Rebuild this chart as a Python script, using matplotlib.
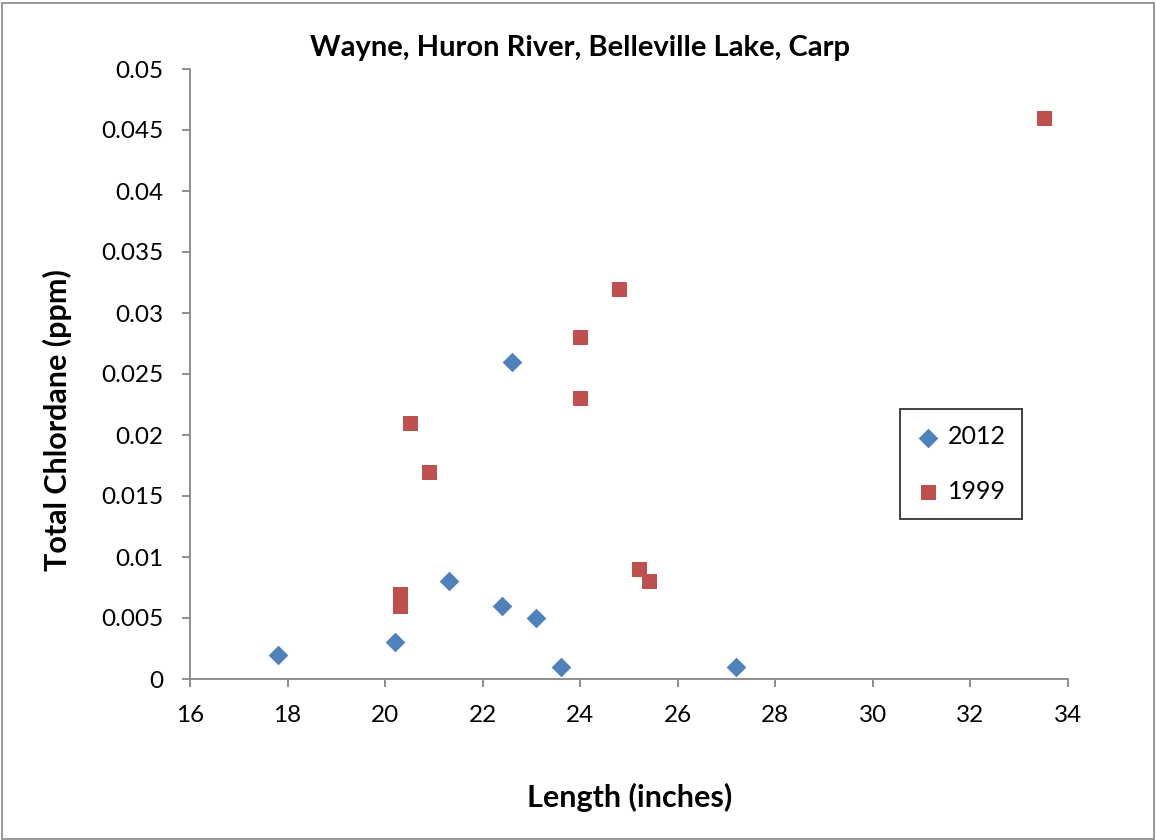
import matplotlib
matplotlib.use("Agg")
import matplotlib.pyplot as plt
from matplotlib.patches import Rectangle
from matplotlib.ticker import FixedLocator, FixedFormatter

# ---- data ----
len_2012 = [17.8, 20.2, 21.3, 22.4, 22.6, 23.1, 23.6, 27.2]
chl_2012 = [0.002, 0.003, 0.008, 0.006, 0.026, 0.005, 0.001, 0.001]
len_1999 = [20.3, 20.3, 20.5, 20.9, 24.0, 24.0, 24.8, 25.2, 25.4, 33.5]
chl_1999 = [0.007, 0.006, 0.021, 0.017, 0.028, 0.023, 0.032, 0.009, 0.008, 0.046]
x_ticks = [16, 18, 20, 22, 24, 26, 28, 30, 32, 34]
y_ticks = [0, 0.005, 0.01, 0.015, 0.02, 0.025, 0.03, 0.035, 0.04, 0.045, 0.05]
y_tick_labels = ["0", "0.005", "0.01", "0.015", "0.02", "0.025", "0.03",
                 "0.035", "0.04", "0.045", "0.05"]
title = "Wayne, Huron River, Belleville Lake, Carp"
xlabel = "Length (inches)"
ylabel = "Total Chlordane (ppm)"

plt.rcParams['font.family'] = ['Lato', 'DejaVu Sans']

W, H = 1156, 840
fig = plt.figure(figsize=(W / 100, H / 100), dpi=100)
fig.patch.set_facecolor('white')

# outer chart border
fig.patches.append(Rectangle((1.5 / W, 1.5 / H), (W - 4) / W, (H - 4) / H,
                             transform=fig.transFigure, fill=False,
                             edgecolor='#868686', linewidth=1.2))

ax = fig.add_axes([190 / W, 1 - 679 / H, (1068 - 190) / W, (679 - 69) / H])

blue = '#4F81BD'
red = '#C0504D'
ax.scatter(len_2012, chl_2012, marker='D', s=10.0**2, color=blue,
           label='2012', zorder=3, linewidths=0)
ax.scatter(len_1999, chl_1999, marker='s', s=10.8**2, color=red,
           label='1999', zorder=3, linewidths=0)

ax.set_xlim(16, 34)
ax.set_ylim(0, 0.05)
ax.xaxis.set_major_locator(FixedLocator(x_ticks))
ax.yaxis.set_major_locator(FixedLocator(y_ticks))
ax.yaxis.set_major_formatter(FixedFormatter(y_tick_labels))

for s in ['top', 'right']:
    ax.spines[s].set_visible(False)
for s in ['left', 'bottom']:
    ax.spines[s].set_color('#868686')
    ax.spines[s].set_linewidth(1.3)
ax.tick_params(axis='both', direction='out', length=6, width=1.3,
               color='#868686', labelsize=17.5, labelcolor='black')
ax.tick_params(axis='y', pad=13)
ax.tick_params(axis='x', pad=13)

fig.text(580 / W, 1 - 48 / H, title, ha='center', va='center',
         fontsize=21, fontweight='bold')
fig.text(630 / W, 1 - 797 / H, xlabel, ha='center', va='center',
         fontsize=22, fontweight='bold')
fig.text(57 / W, 1 - 420 / H, ylabel, ha='center', va='center',
         fontsize=22, fontweight='bold', rotation=90)

leg = fig.legend(loc='upper left',
                 bbox_to_anchor=(900 / W, 1 - 409 / H),
                 frameon=True, fancybox=False, fontsize=18,
                 handlelength=0.9, handletextpad=0.35, labelspacing=1.25,
                 borderpad=0.65, borderaxespad=0)
leg.get_frame().set_edgecolor('black')
leg.get_frame().set_linewidth(1.3)

fig.savefig('out.png', dpi=100, facecolor='white')
